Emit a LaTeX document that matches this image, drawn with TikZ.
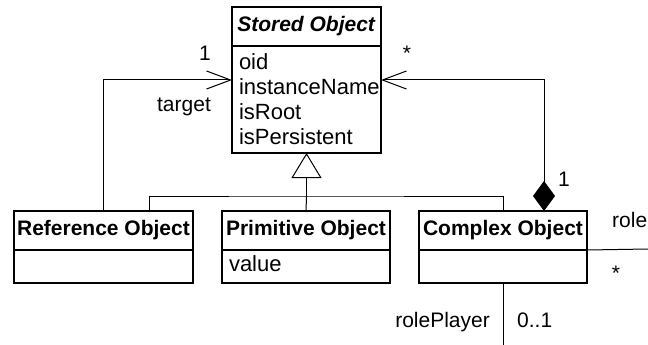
\documentclass[tikz,border=0pt]{standalone}
\usepackage{fontspec}
\setmainfont{Liberation Sans}
\usetikzlibrary{positioning,arrows.meta}

\tikzset{
  every node/.style={font=\fontsize{21pt}{25pt}\selectfont},
  clsname/.style={draw, line width=1.6pt, outer sep=0pt, inner sep=0pt, anchor=north west},
  clsattr/.style={draw, line width=1.6pt, outer sep=0pt, inner xsep=7pt, inner ysep=0pt, align=left,
    font=\fontsize{22pt}{25pt}\selectfont},
  assoc/.style={line width=1pt},
  lbl/.style={inner sep=0pt, anchor=base}
}

\begin{document}
\begin{tikzpicture}[x=1pt, y=-1pt]
      \useasboundingbox (0,0) rectangle (648,345);

      \node[clsname, minimum width=149pt, minimum height=39pt] (stored) at (232,7) {\textbf{\textit{Stored Object}}};
      \node[clsattr, text width=135pt, minimum height=107pt, below=0pt of stored] (storedattr) {oid\\instanceName\\isRoot\\isPersistent};

      \node[clsname, minimum width=179pt, minimum height=39pt] (refname) at (14,211) {\textbf{Reference Object}};
      \node[clsattr, text width=165pt, minimum height=33pt, below=0pt of refname] (refattr) {};
      \node[clsname, minimum width=168pt, minimum height=39pt, right=29pt of refname] (primname) {\textbf{Primitive Object}};
      \node[clsattr, text width=154pt, minimum height=33pt, text depth=5pt, below=0pt of primname] (primattr) {value};
      \node[clsname, minimum width=168pt, minimum height=39pt, right=29pt of primname] (cpxname) {\textbf{Complex Object}};
      \node[clsattr, text width=154pt, minimum height=33pt, below=0pt of cpxname] (cpxattr) {};

      \coordinate (gen) at (306.5,196);
      \coordinate (roleend) at (648,249);
      \coordinate (playerend) at (503,345);

      \draw[assoc, -{Triangle[open, length=25pt, width=30pt, fill=white]}] (gen) -- (storedattr.south);
      \draw[assoc] ([xshift=45.5pt]refname.north) |- (gen) -| (cpxname.north);
      \draw[assoc] (primname.north) -- (gen);

      \draw[assoc, -{Straight Barb[length=24pt, width=18pt]}] (refname.north) |- ([yshift=19.5pt]storedattr.west);
      \draw[assoc, {Diamond[length=30pt, width=22pt]}-{Straight Barb[length=24pt, width=18pt]}] ([xshift=41pt]cpxname.north) |- ([yshift=19.5pt]storedattr.east);
      \draw[assoc] (cpxattr.north east) -- (roleend);
      \draw[assoc] (cpxattr.south) -- (playerend);

      \node[lbl] (refmult) at (205,61) {1};
      \node[lbl] (reflabel) at (184,111) {target};
      \node[lbl] (cpxmult) at (407,61) {*};
      \node[lbl] (ownmult) at (564,186) {1};
      \node[lbl, anchor=base west] (rolelabel) at (612,227) {role};
      \node[lbl] (rolemult) at (616,280) {*};
      \node[lbl, anchor=base east] (playerlabel) at (490,327) {rolePlayer};
      \node[lbl, anchor=base west] (playermult) at (517,327) {0..1};
\end{tikzpicture}
\end{document}
